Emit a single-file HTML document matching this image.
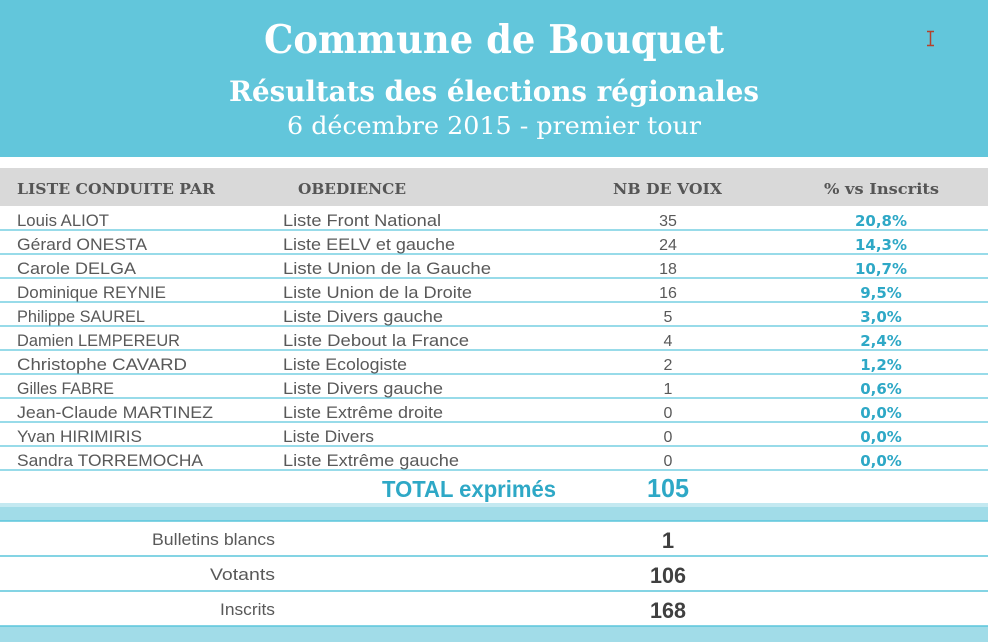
<!DOCTYPE html>
<html><head><meta charset="utf-8"><style>
html,body{margin:0;padding:0;background:#fff;}
svg{display:block;}
</style></head><body>
<svg width="988" height="642" viewBox="0 0 988 642" xmlns="http://www.w3.org/2000/svg">
<rect x="0" y="0" width="988" height="157" fill="#62c6db"/>
<rect x="0" y="168" width="988" height="38" fill="#d9d9d9"/>
<g font-family="'DejaVu Serif','Liberation Serif',serif" fill="#ffffff" text-anchor="start">
<text x="264" y="53" font-size="39" font-weight="bold" textLength="460" lengthAdjust="spacingAndGlyphs">Commune de Bouquet</text>
<text x="229" y="101" font-size="28" font-weight="bold" textLength="530" lengthAdjust="spacingAndGlyphs">Résultats des élections régionales</text>
<text x="287" y="134" font-size="24" textLength="414" lengthAdjust="spacingAndGlyphs">6 décembre 2015 - premier tour</text>
</g>
<g stroke="#b5412a" stroke-width="1.5" fill="none">
<line x1="930.5" y1="31" x2="930.5" y2="46"/>
<line x1="927" y1="31.5" x2="934" y2="31.5"/>
<line x1="927" y1="45.5" x2="934" y2="45.5"/>
</g>
<g font-family="'DejaVu Serif','Liberation Serif',serif" font-weight="bold" font-size="15" fill="#555555">
<text x="17" y="194" textLength="198" lengthAdjust="spacingAndGlyphs">LISTE CONDUITE PAR</text>
<text x="298" y="194" textLength="108" lengthAdjust="spacingAndGlyphs">OBEDIENCE</text>
<text x="613" y="194" textLength="109" lengthAdjust="spacingAndGlyphs">NB DE VOIX</text>
<text x="824" y="194" textLength="115" lengthAdjust="spacingAndGlyphs">% vs Inscrits</text>
</g>
<g stroke="#5bc5dc" stroke-width="1.3">
<line x1="0" y1="230" x2="988" y2="230"/>
<line x1="0" y1="254" x2="988" y2="254"/>
<line x1="0" y1="278" x2="988" y2="278"/>
<line x1="0" y1="302" x2="988" y2="302"/>
<line x1="0" y1="326" x2="988" y2="326"/>
<line x1="0" y1="350" x2="988" y2="350"/>
<line x1="0" y1="374" x2="988" y2="374"/>
<line x1="0" y1="398" x2="988" y2="398"/>
<line x1="0" y1="422" x2="988" y2="422"/>
<line x1="0" y1="446" x2="988" y2="446"/>
<line x1="0" y1="470" x2="988" y2="470"/>
</g>
<g font-family="'Liberation Sans',sans-serif" font-size="17" fill="#595959">
<text x="17" y="226" textLength="92" lengthAdjust="spacingAndGlyphs">Louis ALIOT</text>
<text x="17" y="250" textLength="130" lengthAdjust="spacingAndGlyphs">Gérard ONESTA</text>
<text x="17" y="274" textLength="119" lengthAdjust="spacingAndGlyphs">Carole DELGA</text>
<text x="17" y="298" textLength="149" lengthAdjust="spacingAndGlyphs">Dominique REYNIE</text>
<text x="17" y="322" textLength="128" lengthAdjust="spacingAndGlyphs">Philippe SAUREL</text>
<text x="17" y="346" textLength="163" lengthAdjust="spacingAndGlyphs">Damien LEMPEREUR</text>
<text x="17" y="370" textLength="170" lengthAdjust="spacingAndGlyphs">Christophe CAVARD</text>
<text x="17" y="394" textLength="97" lengthAdjust="spacingAndGlyphs">Gilles FABRE</text>
<text x="17" y="418" textLength="196" lengthAdjust="spacingAndGlyphs">Jean-Claude MARTINEZ</text>
<text x="17" y="442" textLength="125" lengthAdjust="spacingAndGlyphs">Yvan HIRIMIRIS</text>
<text x="17" y="466" textLength="186" lengthAdjust="spacingAndGlyphs">Sandra TORREMOCHA</text>

<text x="283" y="226" textLength="158" lengthAdjust="spacingAndGlyphs">Liste Front National</text>
<text x="283" y="250" textLength="172" lengthAdjust="spacingAndGlyphs">Liste EELV et gauche</text>
<text x="283" y="274" textLength="208" lengthAdjust="spacingAndGlyphs">Liste Union de la Gauche</text>
<text x="283" y="298" textLength="189" lengthAdjust="spacingAndGlyphs">Liste Union de la Droite</text>
<text x="283" y="322" textLength="160" lengthAdjust="spacingAndGlyphs">Liste Divers gauche</text>
<text x="283" y="346" textLength="186" lengthAdjust="spacingAndGlyphs">Liste Debout la France</text>
<text x="283" y="370" textLength="124" lengthAdjust="spacingAndGlyphs">Liste Ecologiste</text>
<text x="283" y="394" textLength="160" lengthAdjust="spacingAndGlyphs">Liste Divers gauche</text>
<text x="283" y="418" textLength="160" lengthAdjust="spacingAndGlyphs">Liste Extrême droite</text>
<text x="283" y="442" textLength="91" lengthAdjust="spacingAndGlyphs">Liste Divers</text>
<text x="283" y="466" textLength="176" lengthAdjust="spacingAndGlyphs">Liste Extrême gauche</text>
</g>
<g font-family="'Liberation Sans',sans-serif" font-size="16" fill="#595959" text-anchor="middle">
<text x="668" y="226">35</text>
<text x="668" y="250">24</text>
<text x="668" y="274">18</text>
<text x="668" y="298">16</text>
<text x="668" y="322">5</text>
<text x="668" y="346">4</text>
<text x="668" y="370">2</text>
<text x="668" y="394">1</text>
<text x="668" y="418">0</text>
<text x="668" y="442">0</text>
<text x="668" y="466">0</text>
</g>
<g font-family="'DejaVu Sans','Liberation Sans',sans-serif" font-weight="bold" font-size="15" fill="#2ea8c6" text-anchor="middle">
<text x="881" y="226">20,8%</text>
<text x="881" y="250">14,3%</text>
<text x="881" y="274">10,7%</text>
<text x="881" y="298">9,5%</text>
<text x="881" y="322">3,0%</text>
<text x="881" y="346">2,4%</text>
<text x="881" y="370">1,2%</text>
<text x="881" y="394">0,6%</text>
<text x="881" y="418">0,0%</text>
<text x="881" y="442">0,0%</text>
<text x="881" y="466">0,0%</text>
</g>
<g font-family="'Liberation Sans',sans-serif" font-weight="bold" fill="#2ea8c6">
<text x="382" y="497" font-size="23" textLength="174" lengthAdjust="spacingAndGlyphs">TOTAL exprimés</text>
<text x="647" y="497" font-size="26" textLength="42" lengthAdjust="spacingAndGlyphs">105</text>
</g>
<rect x="0" y="503" width="988" height="4" fill="#c4e9f1"/>
<rect x="0" y="507" width="988" height="14" fill="#a1dce8"/>
<rect x="0" y="626" width="988" height="16" fill="#a1dce8"/>
<g stroke="#5bc5dc" stroke-width="1.5">
<line x1="0" y1="521" x2="988" y2="521"/>
<line x1="0" y1="556" x2="988" y2="556"/>
<line x1="0" y1="591" x2="988" y2="591"/>
<line x1="0" y1="626" x2="988" y2="626"/>
</g>
<g font-family="'Liberation Sans',sans-serif" font-size="17" fill="#595959">
<text x="152" y="545" textLength="123" lengthAdjust="spacingAndGlyphs">Bulletins blancs</text>
<text x="210" y="580" textLength="65" lengthAdjust="spacingAndGlyphs">Votants</text>
<text x="220" y="615" textLength="55" lengthAdjust="spacingAndGlyphs">Inscrits</text>
</g>
<g font-family="'Liberation Sans',sans-serif" font-weight="bold" font-size="22" fill="#404040" text-anchor="middle">
<text x="668" y="548">1</text>
<text x="668" y="583" textLength="36" lengthAdjust="spacingAndGlyphs">106</text>
<text x="668" y="618" textLength="36" lengthAdjust="spacingAndGlyphs">168</text>
</g>
</svg>
</body></html>
